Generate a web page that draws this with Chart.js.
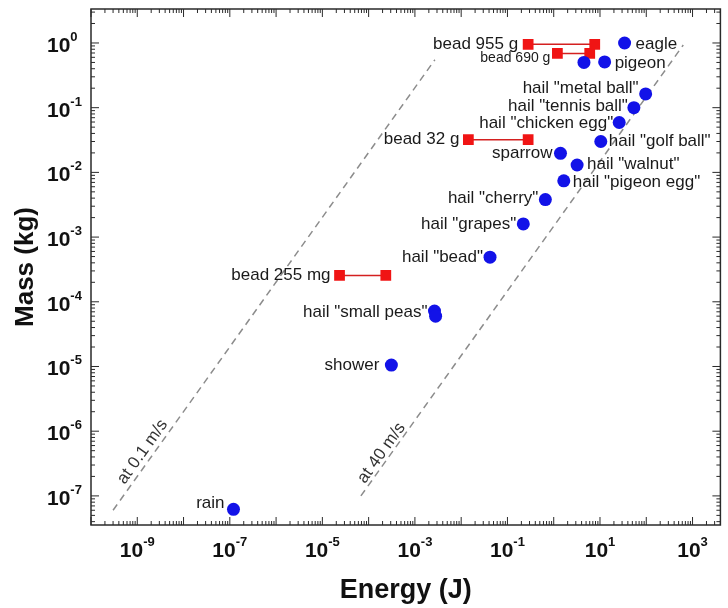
<!DOCTYPE html>
<html>
<head>
<meta charset="utf-8">
<script src="https://cdn.jsdelivr.net/npm/chart.js@4.4.1/dist/chart.umd.min.js"></script>
<style>
  html, body { margin: 0; padding: 0; background: #fff; }
  #wrap { width: 728px; height: 608px; position: relative; }
</style>
</head>
<body>
<div id="wrap"><canvas id="chart"></canvas></div>
<script>
// blue circles (rain, hail, birds)
const dotNames  = ['rain', 'shower', 'hail "small peas"', '', 'hail "bead"', 'hail "grapes"', 'hail "cherry"',
                   'hail "pigeon egg"', 'sparrow', 'hail "walnut"', 'hail "golf ball"', 'hail "chicken egg"',
                   'hail "tennis ball"', 'hail "metal ball"', '', 'pigeon', 'eagle'];
const dotEnergy = [1.2e-7, 3.1e-4, 2.65e-3, 2.8e-3, 0.042, 0.22, 0.66, 1.65, 1.4, 3.2, 10.4, 26, 54, 97, 4.5, 12.6, 34];
const dotMass   = [6.2e-8, 1.05e-5, 7.2e-5, 6.0e-5, 4.9e-4, 1.6e-3, 3.8e-3, 7.4e-3, 0.0197, 0.013, 0.030, 0.059,
                   0.1, 0.163, 0.50, 0.51, 1.0];

// red squares: each bead has two energies at one mass
const beadNames   = ['bead 955 g', 'bead 690 g', 'bead 32 g', 'bead 255 mg'];
const beadEnergyA = [0.28, 1.2, 0.0143, 2.35e-5];
const beadEnergyB = [7.7, 6.0, 0.28, 2.35e-4];
const beadMass    = [0.955, 0.69, 0.032, 2.55e-4];

// dashed speed lines, ends as [energy, mass]
const speedNames  = ['at 0.1 m/s', 'at 40 m/s'];
const speedEnergy = [[3e-10, 2.7e-3], [6.8e-5, 630]];
const speedMass   = [[6e-8, 0.55], [1e-7, 0.93]];
const speedLabelE = [1.3e-9, 1.9e-4];
const speedLabelM = [4.8e-7, 4.6e-7];

const xTickExp = [-9, -7, -5, -3, -1, 1, 3];
const yTickExp = [0, -1, -2, -3, -4, -5, -6, -7];

// label placement (px offset from the point, negative dx = text on the left)
const dotShift  = [[-9, -6], [-12, 0], [-7, 1], [0, 0], [-7, 0], [-7, 0], [-7, -1], [9, 1], [-8, 0], [10, -1],
                   [8, 0], [-6, 1], [-6, -1], [-7, -6], [0, 0], [10, 1], [11, 1]];
const beadShift = [[-10, 0], [-7, 5], [-9, 0], [-9, 0]];
const beadFont  = [17, 14, 17, 17];

const FONT = '"Liberation Sans", Arial, sans-serif';
const INK = '#1a1a1a';

const datasets = [{
  data: dotEnergy.map((e, i) => ({x: e, y: dotMass[i]})),
  backgroundColor: '#1212e8',
  borderWidth: 0,
  pointRadius: 6.5,
  showLine: false
}];
beadNames.forEach((n, i) => datasets.push({
  data: [{x: beadEnergyA[i], y: beadMass[i]}, {x: beadEnergyB[i], y: beadMass[i]}],
  showLine: true,
  borderColor: '#d42020',
  borderWidth: 1.5,
  backgroundColor: '#f01414',
  pointStyle: 'rect',
  pointRadius: 7.6,
  pointBorderWidth: 0
}));
speedNames.forEach((n, i) => datasets.push({
  data: [{x: speedEnergy[i][0], y: speedMass[i][0]}, {x: speedEnergy[i][1], y: speedMass[i][1]}],
  showLine: true,
  borderColor: '#8c8c8c',
  borderWidth: 1.5,
  borderDash: [7, 5],
  pointRadius: 0
}));

function line(ctx, x0, y0, x1, y1) {
  ctx.beginPath(); ctx.moveTo(x0, y0); ctx.lineTo(x1, y1); ctx.stroke();
}

const labels = {
  id: 'labels',
  afterDatasetsDraw(chart) {
    const {ctx, scales: {x, y}} = chart;
    ctx.save();
    ctx.fillStyle = INK;
    ctx.textBaseline = 'middle';
    ctx.font = '17px ' + FONT;
    dotNames.forEach((n, i) => {
      if (!n) return;
      const [dx, dy] = dotShift[i];
      ctx.textAlign = dx < 0 ? 'right' : 'left';
      ctx.fillText(n, x.getPixelForValue(dotEnergy[i]) + dx, y.getPixelForValue(dotMass[i]) + dy);
    });
    beadNames.forEach((n, i) => {
      const [dx, dy] = beadShift[i];
      ctx.font = beadFont[i] + 'px ' + FONT;
      ctx.textAlign = 'right';
      ctx.fillText(n, x.getPixelForValue(beadEnergyA[i]) + dx, y.getPixelForValue(beadMass[i]) + dy);
    });
    ctx.font = '17px ' + FONT;
    ctx.fillStyle = '#333';
    ctx.textAlign = 'center';
    speedNames.forEach((n, i) => {
      const ang = Math.atan2(
        y.getPixelForValue(speedMass[i][1]) - y.getPixelForValue(speedMass[i][0]),
        x.getPixelForValue(speedEnergy[i][1]) - x.getPixelForValue(speedEnergy[i][0]));
      ctx.save();
      ctx.translate(x.getPixelForValue(speedLabelE[i]), y.getPixelForValue(speedLabelM[i]));
      ctx.rotate(ang);
      ctx.fillText(n, 0, 0);
      ctx.restore();
    });
    ctx.restore();
  },
  afterDraw(chart) {
    const {ctx, chartArea: a, scales: {x, y}} = chart;
    ctx.save();
    ctx.strokeStyle = '#2a2a2a';
    ctx.lineWidth = 1.5;
    ctx.strokeRect(a.left, a.top, a.right - a.left, a.bottom - a.top);

    // inward ticks on all four sides
    ctx.lineWidth = 1;
    for (let e = -10; e <= 4; e++) {
      for (let k = 1; k <= 9; k++) {
        const v = k * Math.pow(10, e);
        const len = k === 1 ? 8 : 4;
        if (v >= x.min && v <= x.max) {
          const px = x.getPixelForValue(v);
          line(ctx, px, a.bottom, px, a.bottom - len);
          line(ctx, px, a.top, px, a.top + len);
        }
        if (v >= y.min && v <= y.max) {
          const py = y.getPixelForValue(v);
          line(ctx, a.left, py, a.left + len, py);
          line(ctx, a.right, py, a.right - len, py);
        }
      }
    }

    // power-of-ten tick labels
    const big = 'bold 21px ' + FONT, small = 'bold 13px ' + FONT;
    ctx.fillStyle = '#111';
    ctx.textAlign = 'left';
    ctx.textBaseline = 'alphabetic';
    xTickExp.forEach(e => {
      const px = x.getPixelForValue(Math.pow(10, e));
      ctx.font = big; const w1 = ctx.measureText('10').width;
      ctx.font = small; const w2 = ctx.measureText(String(e)).width;
      const left = px - (w1 + w2) / 2;
      ctx.font = big; ctx.fillText('10', left, 557);
      ctx.font = small; ctx.fillText(String(e), left + w1, 546);
    });
    yTickExp.forEach(e => {
      const py = y.getPixelForValue(Math.pow(10, e));
      ctx.font = big; const w1 = ctx.measureText('10').width;
      ctx.fillText('10', 47, py + 9);
      ctx.font = small; ctx.fillText(String(e), 47 + w1, py - 2);
    });
    ctx.restore();
  }
};

new Chart(document.getElementById('chart'), {
  type: 'scatter',
  data: {datasets},
  options: {
    responsive: true,
    maintainAspectRatio: false,
    animation: false,
    layout: {padding: {top: 9, right: 5, left: 0, bottom: 0}},
    plugins: {legend: {display: false}, tooltip: {enabled: false}},
    scales: {
      x: {
        type: 'logarithmic',
        min: 1e-10,
        max: 4000,
        grid: {display: false},
        border: {display: false},
        ticks: {display: false},
        title: {display: true, text: 'Energy (J)', color: '#111',
                font: {family: FONT, size: 27, weight: 'bold'}, padding: {top: 0, bottom: 1}},
        afterFit: s => { s.height = 83; }
      },
      y: {
        type: 'logarithmic',
        min: 3.55e-8,
        max: 3.35,
        grid: {display: false},
        border: {display: false},
        ticks: {display: false},
        title: {display: true, text: 'Mass (kg)', color: '#111',
                font: {family: FONT, size: 26, weight: 'bold'}, padding: {top: 10, bottom: 0}},
        afterFit: s => { s.width = 91; }
      }
    }
  },
  plugins: [labels]
});
</script>
</body>
</html>
